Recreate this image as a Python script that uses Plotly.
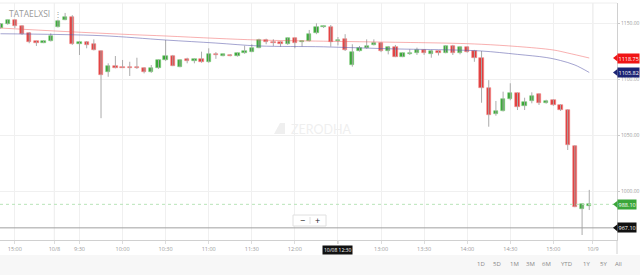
import plotly.graph_objects as go
import pandas as pd

# ---------------- data ----------------
times = list(pd.date_range("2018-10-05 14:50", "2018-10-05 15:25", freq="5min")) + \
        list(pd.date_range("2018-10-08 09:15", "2018-10-08 15:25", freq="5min"))

opens = [1145.5, 1149, 1152.7, 1147.3, 1141.3, 1133.5, 1132.5, 1134, 1146.7, 1153,
         1155.6, 1131, 1132.8, 1131, 1125, 1106.5, 1111.6, 1111, 1110.9, 1110.4,
         1110, 1106, 1109.6, 1117, 1120.8, 1111, 1117.6, 1116.4, 1117.9, 1115,
         1122.3, 1120.8, 1121.8, 1120.8, 1123, 1124.4, 1128, 1134.8, 1133.3, 1132.8,
         1131.3, 1136.3, 1133.3, 1134, 1140.8, 1146, 1146.8, 1134, 1135.4, 1112.5,
         1125.3, 1127.4, 1130.4, 1132.5, 1125, 1128.3, 1120, 1122, 1123, 1126,
         1122.5, 1125, 1123.5, 1129.7, 1123, 1128.3, 1125.3, 1119, 1092.3, 1068.5,
         1071.7, 1082, 1087.2, 1076.2, 1080.6, 1086.3, 1078.8, 1081.3, 1076.8, 1072.3,
         1040.2, 983.7, 987]
highs = [1150, 1153, 1153, 1148, 1142, 1134, 1134.5, 1140.8, 1153, 1159,
         1157, 1134, 1133.9, 1135.4, 1125.5, 1114, 1120.5, 1117, 1115.4, 1119,
         1110.5, 1112.5, 1117.5, 1134.8, 1121.5, 1117.5, 1119, 1118.5, 1124.4, 1127.4,
         1124, 1122.5, 1122.3, 1123.5, 1129.7, 1131, 1136, 1136, 1135.5, 1133.5,
         1137, 1137, 1134, 1143.8, 1149.7, 1148, 1148.2, 1137.5, 1140, 1131,
         1129.5, 1135.4, 1135.4, 1133, 1129.5, 1130.4, 1123.5, 1126.5, 1128, 1126.5,
         1126, 1125.5, 1130, 1130.5, 1129, 1129, 1126, 1125, 1099, 1080.4,
         1088.7, 1096.2, 1088, 1083.3, 1088.1, 1087, 1081.5, 1082, 1077.5, 1073,
         1041, 988.5, 1001]
lows = [1145, 1148.5, 1145.5, 1139.5, 1131.9, 1129.5, 1132, 1133.5, 1146, 1152.5,
        1130.5, 1121.4, 1127.4, 1125.5, 1065, 1102, 1109.5, 1109.8, 1102.7, 1109,
        1105, 1105.5, 1109, 1116, 1111.5, 1110.5, 1114, 1114, 1114.5, 1114.5,
        1118, 1120.3, 1120.3, 1120, 1122.5, 1124, 1127.5, 1131, 1129.5, 1128.9,
        1130.5, 1127.4, 1129, 1133.5, 1140, 1145.5, 1128.9, 1130, 1125, 1111,
        1124.5, 1127, 1130, 1124, 1122, 1119.5, 1119.5, 1121.5, 1121.5, 1121.5,
        1119, 1121, 1123, 1121.4, 1122, 1123.5, 1115.4, 1078.8, 1057.4, 1067.2,
        1071, 1081, 1072.3, 1072.3, 1078.3, 1076.8, 1078, 1076, 1071.5, 1036.6,
        985.5, 960.7, 983]
closes = [1149, 1152.5, 1147.3, 1140.2, 1133.3, 1132.5, 1134, 1138.4, 1152, 1155.5,
          1131.3, 1133.3, 1130.4, 1126, 1103.6, 1112, 1110.1, 1110.1, 1110, 1109.5,
          1106, 1110, 1117, 1120.8, 1112, 1117, 1116, 1117.9, 1115, 1122,
          1121.4, 1122, 1120.8, 1123, 1125, 1127.4, 1134.8, 1133.3, 1132.4, 1131,
          1136.3, 1131.9, 1133.8, 1140, 1146, 1147.3, 1133.3, 1135, 1126, 1124.4,
          1128, 1129.7, 1132.5, 1125, 1128.3, 1120, 1123, 1123.5, 1126, 1123,
          1125.3, 1123.5, 1129.7, 1123, 1128.3, 1124.4, 1119, 1091.7, 1068, 1071.4,
          1082, 1087.2, 1075.3, 1079.8, 1085.1, 1078.8, 1080.6, 1076.8, 1072.3, 1041,
          986, 988, 988.1]

ma_red_idx = [0, 9, 18, 23, 30, 36, 45, 55, 63, 67, 72, 77, 79, 82]
ma_red = [1145.5, 1142.4, 1139.7, 1138.4, 1136.3, 1134.8, 1133.75, 1132.8, 1131.9,
          1131.0, 1129.0, 1125.9, 1123.2, 1118.75]
ma_blue_idx = [0, 14, 23, 30, 36, 45, 54, 63, 67, 72, 76, 78, 80, 82]
ma_blue = [1140.4, 1138.7, 1134.8, 1132.1, 1129.5, 1128.75, 1127.0, 1125.9, 1125.0,
           1122.0, 1119.2, 1116.5, 1112.5, 1105.82]

last_price = 988.10
cross_price = 967.10
cross_time = "2018-10-08 12:30"
ytick_vals = [1000, 1050, 1100, 1150]
range_buttons = ["1D", "5D", "1M", "3M", "6M", "YTD", "1Y", "5Y", "All"]
symbol = "TATAELXSI"

# ---------------- layout helpers ----------------
W, H = 640, 275
PL, PR, PT, PB = 0, 617, 3, 240
def fx(px):
    return (px - PL) / (PR - PL)
def fy(py):
    return (PB - py) / (PB - PT)

n = len(times)
idx = list(range(n))
GREEN, RED = "#36a534", "#e23b3b"
ct = pd.Timestamp(cross_time)
cross_idx = times.index(ct)

# ticks from the time list (the crosshair tag covers the tick under it)
tickvals, ticktext = [], []
for i, t in enumerate(times):
    if i > 0 and t.date() != times[i - 1].date():
        tickvals.append(i - 0.5); ticktext.append(f"{t.month}/{t.day}")
    elif t.minute in (0, 30) and not (t.hour == 9 and t.minute == 15):
        tickvals.append(i); ticktext.append("" if i == cross_idx else f"{t.hour}:{t.minute:02d}")
nxt = times[-1] + pd.Timedelta(days=1)
tickvals.append(n - 0.5); ticktext.append(f"{nxt.month}/{nxt.day}")

fig = go.Figure()

# wicks
wx, wy = [], []
for i in idx:
    wx += [i, i, None]
    wy += [lows[i], highs[i], None]
fig.add_trace(go.Scatter(x=wx, y=wy, mode="lines", line=dict(color="#ababab", width=1),
                         hoverinfo="skip"))

# bodies
base = [min(o, c) for o, c in zip(opens, closes)]
hgt = [max(abs(c - o), 0.9) for o, c in zip(opens, closes)]
cols = [GREEN if c >= o else RED for o, c in zip(opens, closes)]
lcols = ["#7fcc7d" if c >= o else "#f08a8a" for o, c in zip(opens, closes)]
fig.add_trace(go.Bar(x=idx, y=hgt, base=base, width=0.6,
                     marker=dict(color=cols, line=dict(color=lcols, width=0.6))))

# moving averages
fig.add_trace(go.Scatter(x=ma_red_idx, y=ma_red, mode="lines", line_shape="spline",
                         line=dict(color="rgba(240,80,80,0.45)", width=1)))
fig.add_trace(go.Scatter(x=ma_blue_idx, y=ma_blue, mode="lines", line_shape="spline",
                         line=dict(color="rgba(90,90,170,0.55)", width=1)))

shapes = []
# day separators
for v, t in zip(tickvals, ticktext):
    if "/" in t:
        shapes.append(dict(type="line", xref="x", yref="paper", x0=v, x1=v, y0=0, y1=1,
                           line=dict(color="#e2e2e2", width=1), layer="below"))
# top border
shapes.append(dict(type="line", xref="paper", yref="paper", x0=0, x1=1, y0=1, y1=1,
                   line=dict(color="#eeeeee", width=1)))
# right axis line extension
shapes.append(dict(type="line", xref="paper", yref="paper", x0=1, x1=1, y0=fy(240), y1=fy(254),
                   line=dict(color="#d0d0d0", width=1)))
# last price dashed
shapes.append(dict(type="line", xref="paper", yref="y", x0=0, x1=1, y0=last_price, y1=last_price,
                   line=dict(color="#b8e4b8", width=1, dash="dot")))
# crosshair
shapes.append(dict(type="line", xref="paper", yref="y", x0=0, x1=1, y0=cross_price, y1=cross_price,
                   line=dict(color="#a0a0a0", width=1)))
shapes.append(dict(type="line", xref="x", yref="paper", x0=cross_idx, x1=cross_idx, y0=0, y1=fy(244),
                   line=dict(color="#d3d3d3", width=1.5)))
# bottom bar
shapes.append(dict(type="rect", xref="paper", yref="paper", x0=fx(0), x1=fx(W), y0=fy(255), y1=fy(H + 2),
                   fillcolor="#f7f7f7", line=dict(width=0), layer="below"))
# zoom control box
shapes.append(dict(type="rect", xref="paper", yref="paper", x0=fx(293), x1=fx(326), y0=fy(226), y1=fy(215),
                   fillcolor="white", line=dict(color="#e0e0e0", width=1)))
shapes.append(dict(type="line", xref="paper", yref="paper", x0=fx(310), x1=fx(310), y0=fy(224), y1=fy(217),
                   line=dict(color="#e0e0e0", width=1)))
# watermark logo
shapes.append(dict(type="path", xref="paper", yref="paper",
                   path=f"M {fx(274)},{fy(134)} L {fx(285)},{fy(134)} L {fx(285)},{fy(123)} L {fx(280)},{fy(123)} Z",
                   fillcolor="#efefef", line=dict(width=0), layer="below"))

annotations = []
# symbol
annotations.append(dict(xref="paper", yref="paper", x=fx(7), y=fy(13), text=symbol, showarrow=False,
                        xanchor="left", yanchor="middle", font=dict(size=8.5, color="#9a9a9a", family="Open Sans")))
annotations.append(dict(xref="paper", yref="paper", x=fx(58), y=fy(13), text="⋮", showarrow=False,
                        xanchor="center", yanchor="middle", font=dict(size=8, color="#999999")))
# watermark
annotations.append(dict(xref="paper", yref="paper", x=fx(289), y=fy(129), text="ZERODHA", showarrow=False,
                        xanchor="left", yanchor="middle", font=dict(size=12.5, color="#efefef", family="Lato")))
# zoom buttons
annotations.append(dict(xref="paper", yref="paper", x=fx(302), y=fy(220.5), text="−", showarrow=False,
                        xanchor="center", yanchor="middle", font=dict(size=9, color="#222222")))
annotations.append(dict(xref="paper", yref="paper", x=fx(318), y=fy(220.5), text="+", showarrow=False,
                        xanchor="center", yanchor="middle", font=dict(size=9, color="#222222")))
# range buttons
btn_px = [481, 497, 514, 530, 546, 566, 586, 603, 618]
for b, p in zip(range_buttons, btn_px):
    annotations.append(dict(xref="paper", yref="paper", x=fx(p), y=fy(264), text=b, showarrow=False,
                            xanchor="center", yanchor="middle", font=dict(size=6, color="#888888", family="Open Sans")))
# price tags
def tag(price, text, color):
    shapes.append(dict(type="path", xref="paper", yref="y",
                       path=f"M {fx(613)},{price} L {fx(617.5)},{price + 3.2} L {fx(617.5)},{price - 3.2} Z",
                       fillcolor=color, line=dict(width=0)))
    annotations.append(dict(xref="paper", yref="y", x=1.0, y=price, text=text, showarrow=False,
                            xanchor="left", yanchor="middle", bgcolor=color, borderpad=0.5,
                            font=dict(size=5.5, color="white", family="Open Sans")))
tag(ma_red[-1], f"{ma_red[-1]:.2f}", "#f01515")
tag(ma_blue[-1], f"{ma_blue[-1]:.2f}", "#1c2474")
tag(last_price, f"{last_price:.2f}", "#3aa63a")
tag(cross_price, f"{cross_price:.2f}", "#111111")
# crosshair time tag
annotations.append(dict(xref="x", yref="paper", x=cross_idx, y=fy(250), text=ct.strftime("%m/%d %H:%M"),
                        showarrow=False, xanchor="center", yanchor="middle", bgcolor="#111111", borderpad=1,
                        font=dict(size=5, color="white", family="Open Sans")))

span = (PR - PL) / 7.18
fig.update_layout(
    width=W, height=H,
    margin=dict(l=PL, r=W - PR, t=PT, b=H - PB),
    paper_bgcolor="white", plot_bgcolor="white",
    showlegend=False, hovermode=False, bargap=0,
    shapes=shapes, annotations=annotations,
    xaxis=dict(range=[-0.07, -0.07 + span], tickvals=tickvals, ticktext=ticktext,
               showgrid=True, gridcolor="#f0f0f0", gridwidth=1, zeroline=False,
               showline=True, linecolor="#d0d0d0", ticks="outside", ticklen=3, tickcolor="#dddddd",
               tickfont=dict(size=5.5, color="#999999", family="Open Sans"), fixedrange=True),
    yaxis=dict(range=[956.25, 1167.86], side="right", tickvals=ytick_vals,
               ticktext=[f"{v:.2f}" for v in ytick_vals],
               showgrid=True, gridcolor="#f0f0f0", zeroline=False,
               showline=True, linecolor="#d0d0d0", ticks="outside", ticklen=2, tickcolor="#cccccc",
               tickfont=dict(size=5, color="#999999", family="Open Sans"), automargin=False,
               fixedrange=True),
)
fig.write_html("out.html", config={"displayModeBar": False})
